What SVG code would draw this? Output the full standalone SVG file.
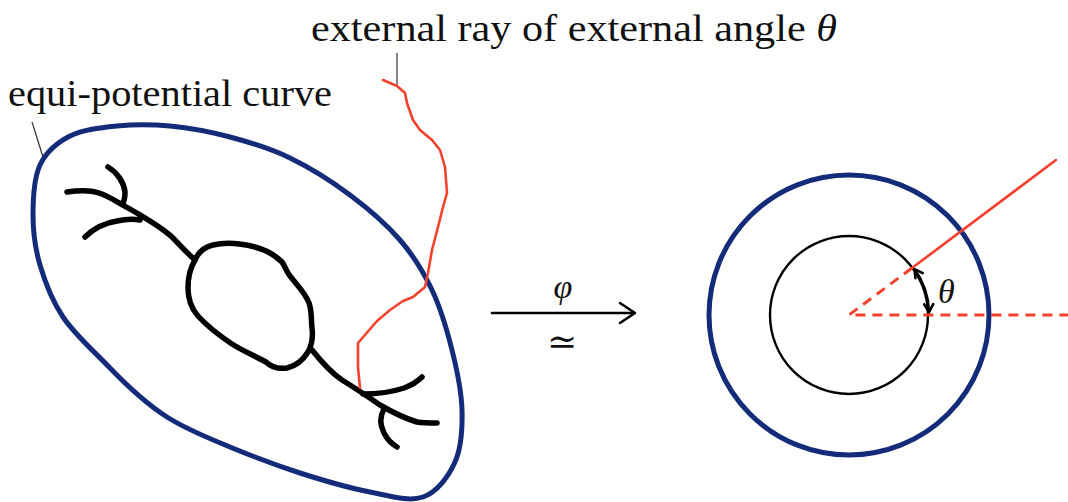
<svg xmlns="http://www.w3.org/2000/svg" width="1068" height="502" viewBox="0 0 1068 502">
<style>
  .lbl { font-family: "Liberation Serif", "DejaVu Serif", serif; font-size: 37px; fill: #111; }
  .math { font-family: "Liberation Serif", "DejaVu Serif", serif; font-style: italic; fill: #111; }
  .blue { fill: none; stroke: #142b7a; stroke-width: 5; stroke-linejoin: round; }
  .tree { fill: none; stroke: #000; stroke-width: 5.5; stroke-linecap: round; stroke-linejoin: round; }
  .red { fill: none; stroke: #f2412d; stroke-width: 2.6; stroke-linecap: round; stroke-linejoin: round; }
  .reddash { fill: none; stroke: #f2412d; stroke-width: 3; stroke-dasharray: 10 7; }
  .leader { stroke: #333; stroke-width: 1.2; fill: none; }
  .arrow { fill: none; stroke: #000; stroke-width: 2.6; stroke-linecap: round; stroke-linejoin: round; }
</style>
<defs>
  <marker id="ah" viewBox="0 0 12 12" refX="10" refY="6" markerWidth="12" markerHeight="12" markerUnits="userSpaceOnUse" orient="auto-start-reverse">
    <path d="M2,1.5 L10,6 L2,10.5" fill="none" stroke="#000" stroke-width="2.6" stroke-linecap="round" stroke-linejoin="round"/>
  </marker>
</defs>
<rect width="1068" height="502" fill="#fff"/>

<g id="labels">
  <text class="lbl" x="311" y="41" textLength="526" lengthAdjust="spacingAndGlyphs">external ray of external angle <tspan font-style="italic">θ</tspan></text>
  <text class="lbl" x="8" y="106" textLength="324" lengthAdjust="spacingAndGlyphs">equi-potential curve</text>
  <line class="leader" x1="397" y1="53" x2="397" y2="86"/>
  <line class="leader" x1="32" y1="122" x2="43" y2="157"/>
</g>

<g id="equipotential-curve">
  <path class="blue" d="M33,215 C33,198.3 33.8,178.2 40,165 C46.2,151.8 57.2,142.5 70,136 C82.8,129.5 100.3,127.7 117,126 C133.7,124.3 151.2,124.2 170,126 C188.8,127.8 210,131.7 230,137 C250,142.3 270,148.3 290,158 C310,167.7 331.7,181.3 350,195 C368.3,208.7 386.3,224.2 400,240 C413.7,255.8 423.3,271.7 432,290 C440.7,308.3 447,330 452,350 C457,370 461.5,391.3 462,410 C462.5,428.7 461.5,447.5 455,462 C448.5,476.5 437.2,492 423,497 C408.8,502 390.5,496 370,492 C349.5,488 323.3,480.5 300,473 C276.7,465.5 252.2,456.3 230,447 C207.8,437.7 187,429.8 167,417 C147,404.2 127.3,386 110,368 C92.7,350 74.7,334.5 63,317 C51.3,299.5 45,282 40,265 C35,248 33,231.7 33,215 Z"/>
</g>

<g id="julia-set">
  <path class="tree" d="M67,192 C80,190 92,190 102,194 C112,198 120,204 130,209 C145,218 160,226 172,237 C180,245 187,253 195,260"/>
  <path class="tree" d="M108,167 C118,173 124,183 125,192 C125,197 124,201 123,203"/>
  <path class="tree" d="M85,237 C93,229 104,223 117,221 C126,219 134,219 140,220"/>
  <path class="tree" d="M195,260 C198,253 204,247 213,245 C226,242 243,244 255,247 C266,250 276,256 282,262 C285,266 286,271 290,276 C297,285 306,294 309,303 C312,311 311,320 312,328 C313,336 312,345 308,352 C303,360 296,366 287,368 C279,369 271,367 266,362 C255,356 243,351 232,344 C220,336 208,327 198,316 C191,308 188,298 188,288 C188,279 189,270 195,260 Z"/>
  <path class="tree" d="M312,350 C320,360 330,372 342,380 C355,388 367,396 380,405 C392,412 404,418 417,422 C424,423 430,423 437,423"/>
  <path class="tree" d="M363,394 C376,394 392,392 404,388 C412,385 418,381 422,377"/>
  <path class="tree" d="M384,409 C380,416 380,425 384,433 C387,439 392,444 397,447"/>
</g>

<g id="external-ray">
  <path class="red" d="M383,80 L397,86 L405,93 L407,103 L413,120 L420,130 L432,140 L440,150 L445,167 L447,193 L443,207 L438,227 L432,250 L428,273 L425,287 L413,297 L403,301 L390,310 L377,321 L358,343 L358,367 L360,388"/>
</g>

<g id="map-arrow">
  <line class="arrow" x1="492" y1="313" x2="634" y2="313"/>
  <path class="arrow" d="M620,303 L635,313 L620,323"/>
  <text class="math" x="563" y="298" font-size="34" text-anchor="middle">φ</text>
  <text x="562" y="354" font-size="36" text-anchor="middle" font-family="DejaVu Serif, serif" fill="#111">≃</text>
</g>

<g id="disk">
  <circle class="blue" cx="849" cy="315" r="140"/>
  <circle cx="849" cy="315" r="79" fill="none" stroke="#000" stroke-width="2.4"/>
</g>

<g id="connectors">
  <path class="reddash" d="M912,268 L849,315 L1068,315"/>
  <line class="red" x1="912" y1="268" x2="1056" y2="160" stroke-width="3"/>
  <path d="M914.5,269.1 A80,80 0 0 1 929,312.2" fill="none" stroke="#000" stroke-width="2.8" marker-start="url(#ah)" marker-end="url(#ah)"/>
  <text class="math" x="938" y="303" font-size="34">θ</text>
</g>
</svg>
